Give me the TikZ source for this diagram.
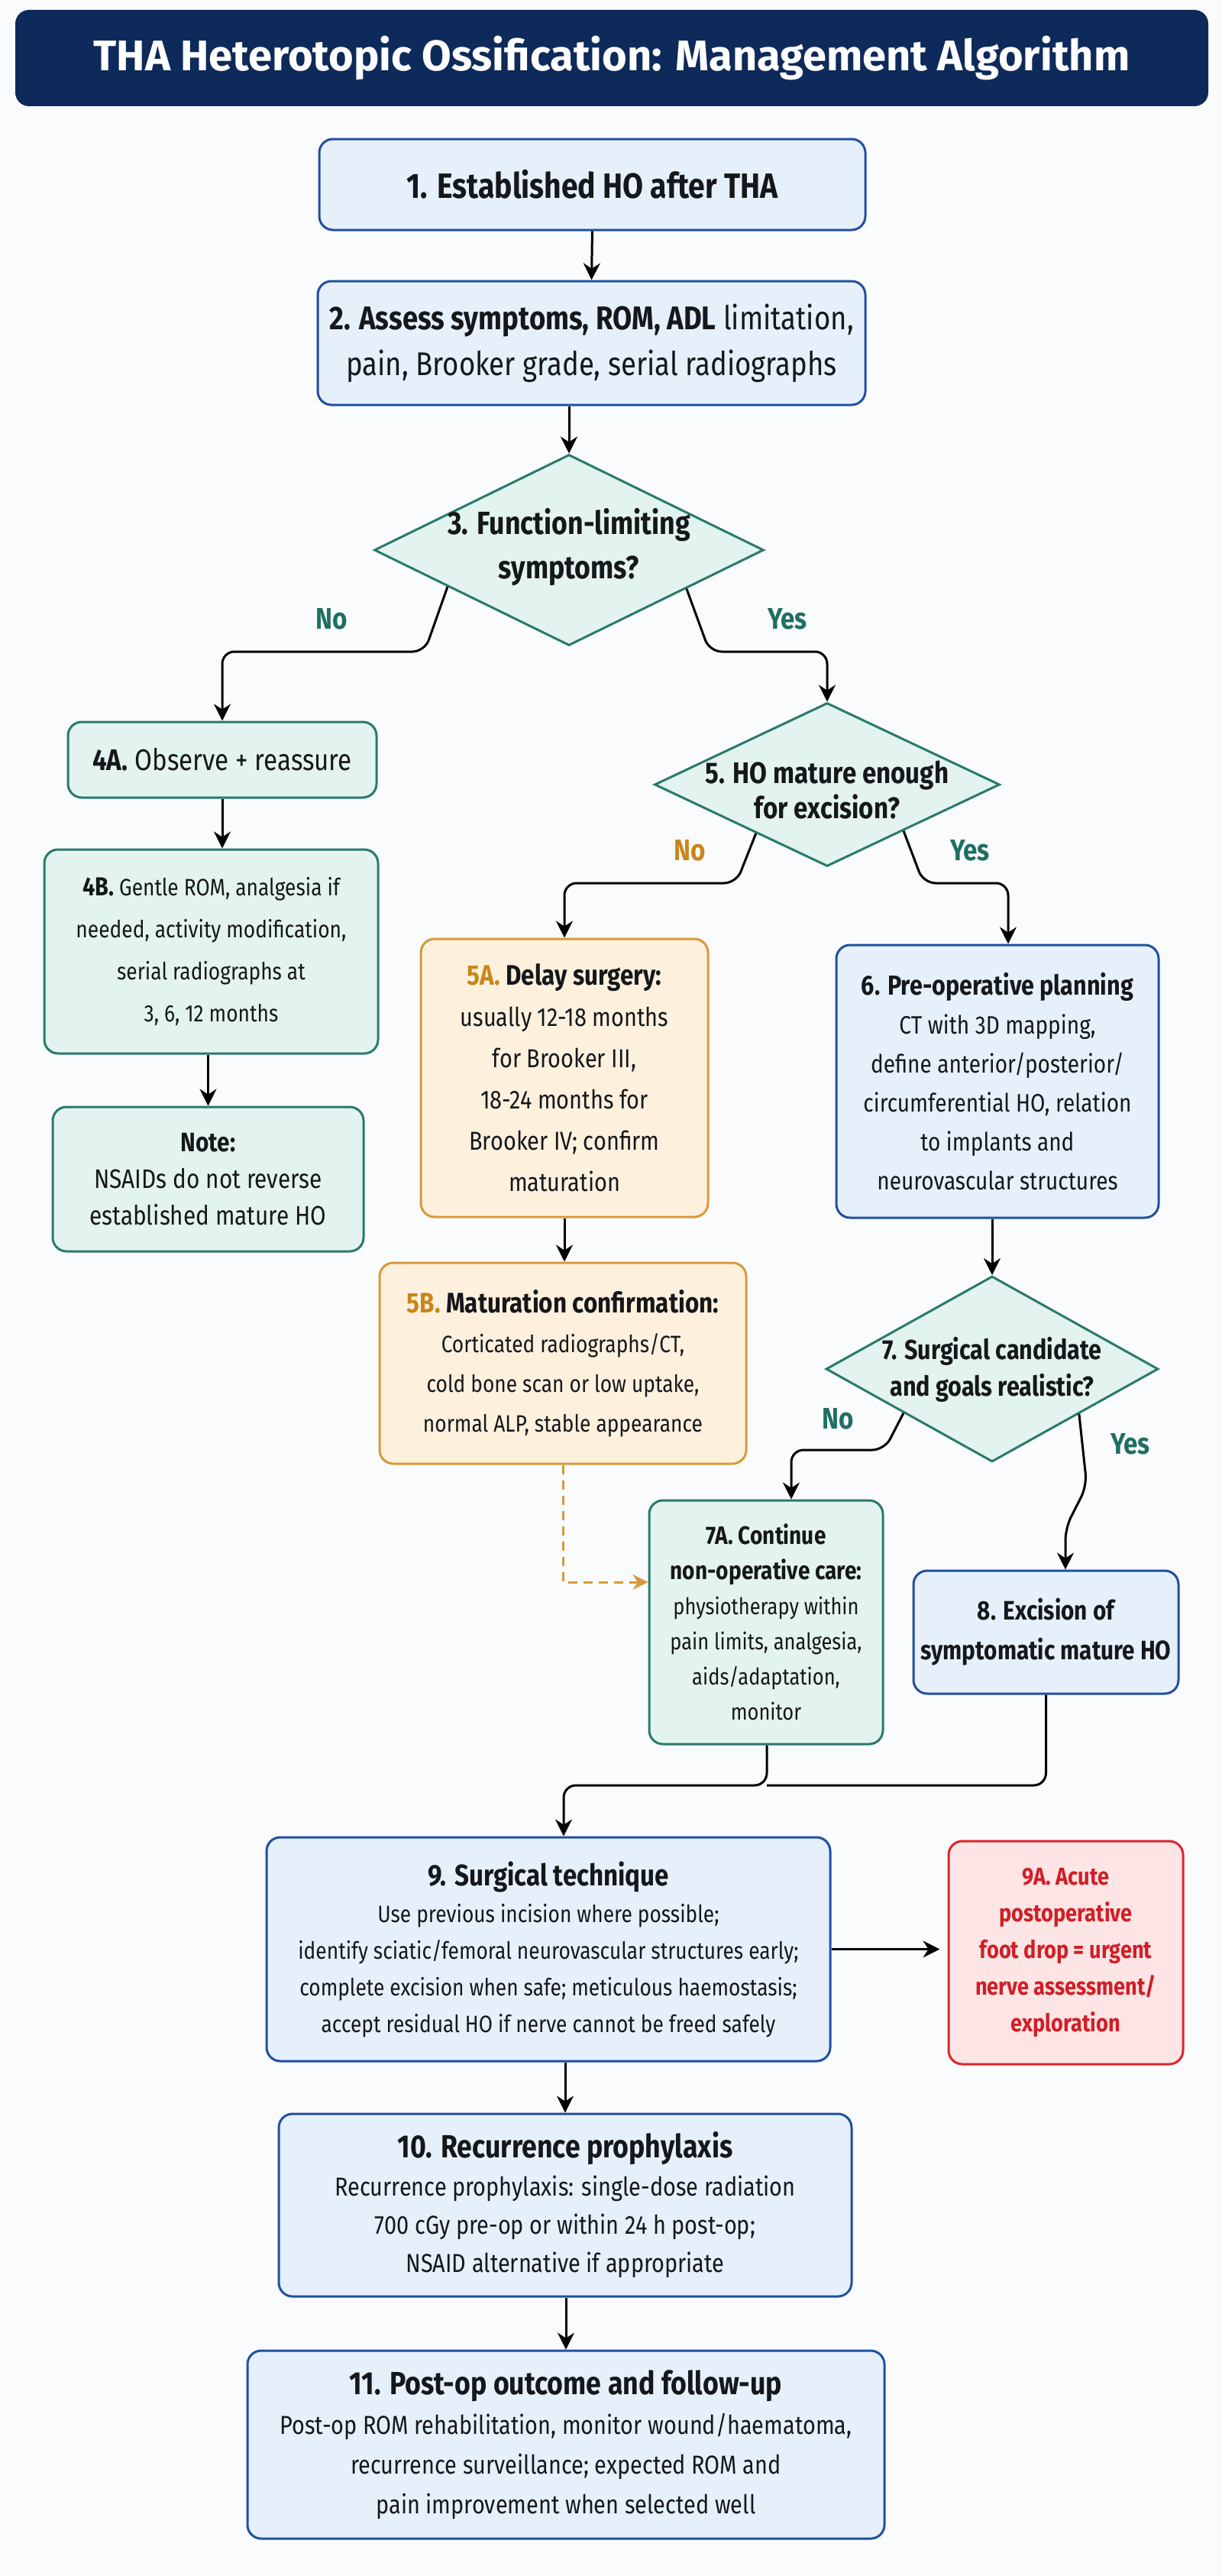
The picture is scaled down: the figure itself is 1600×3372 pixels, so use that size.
\documentclass[tikz,border=0pt]{standalone}
\usepackage{fontspec}
\setmainfont{Fira Sans}[FakeStretch=0.85]
\newfontfamily\titlefont{Fira Sans}
\usetikzlibrary{shapes.geometric,arrows.meta,calc}
\definecolor{navy}{HTML}{0E2A5A}
\definecolor{bgc}{HTML}{FAFBFC}
\definecolor{txt}{HTML}{15171A}
\definecolor{bborder}{HTML}{2150A0}
\definecolor{bfill}{HTML}{E6F0FB}
\definecolor{tborder}{HTML}{2A7A6C}
\definecolor{tfill}{HTML}{E3F3EF}
\definecolor{oborder}{HTML}{D69A3A}
\definecolor{ofill}{HTML}{FDF1DE}
\definecolor{otext}{HTML}{C8861A}
\definecolor{rborder}{HTML}{D9262C}
\definecolor{rfill}{HTML}{FDE4E5}
\definecolor{rtext}{HTML}{D01F26}
\definecolor{labteal}{HTML}{1F6F63}
\newcommand\fsz[2]{\fontsize{#1}{#2}\selectfont}
\begin{document}
\begin{tikzpicture}[x=0.5pt,y=-0.5pt,
  box/.style={draw, rounded corners=9pt, line width=1.5pt, align=center, inner sep=0pt, text=txt},
  bluebox/.style={box, draw=bborder, fill=bfill},
  tealbox/.style={box, draw=tborder, fill=tfill},
  orangebox/.style={box, draw=oborder, fill=ofill},
  redbox/.style={box, draw=rborder, fill=rfill, text=rtext},
  dia/.style={diamond, draw=tborder, fill=tfill, line width=1.5pt, inner sep=0pt},
  diatext/.style={align=center, inner sep=0pt, text=txt},
  ln/.style={line width=1.5pt, black, rounded corners=8pt},
  arr/.style={ln, -{Stealth[length=11pt,width=11pt]}},
  darr/.style={line width=1.5pt, oborder, dash pattern=on 6pt off 4pt, -{Stealth[length=10pt,width=10pt]}},
  lab/.style={font=\bfseries\fsz{19.5}{22}, text=labteal, inner sep=0pt},
  olab/.style={lab, text=otext}
]
\fill[bgc] (0,0) rectangle (1600,3372);
\useasboundingbox (0,0) rectangle (1600,3372);

% title
\node[draw=none, fill=navy, rounded corners=9pt, minimum width=781pt, minimum height=63pt, text=white,
  font=\titlefont\bfseries\fsz{28}{32}] (title) at (801,76) {THA Heterotopic Ossification: Management Algorithm};

% boxes
\node[bluebox, minimum width=357.5pt, minimum height=59.5pt, font=\bfseries\fsz{23}{26}] (a1) at (775.5,241.5)
  {1. Established HO after THA};
\node[bluebox, minimum width=358.5pt, minimum height=81pt, font=\fsz{21.5}{30}] (a2) at (774.5,449)
  {\textbf{2. Assess symptoms, ROM, ADL} limitation,\\pain, Brooker grade, serial radiographs};

\node[dia, minimum width=255pt, minimum height=125pt] (d3) at (745,720) {};
\node[diatext, font=\bfseries\fsz{21}{29}] (d3t) at (745,716) {3. Function-limiting\\symptoms?};

\node[tealbox, minimum width=202pt, minimum height=49.5pt, font=\fsz{19.5}{24}] (a4) at (291,994.5)
  {\textbf{4A.} Observe + reassure};
\node[tealbox, minimum width=218.5pt, minimum height=133.5pt, font=\fsz{15.5}{27.5}] (a4b) at (276.5,1245.5)
  {\textbf{\fsz{17}{27.5}4B.} Gentle ROM, analgesia if\\needed, activity modification,\\serial radiographs at\\3, 6, 12 months};
\node[tealbox, minimum width=203.5pt, minimum height=94.5pt, font=\fsz{17.5}{24}] (note) at (272.5,1543.5)
  {\textbf{Note:}\\NSAIDs do not reverse\\established mature HO};

\node[dia, minimum width=226pt, minimum height=107pt] (d5) at (1083,1027) {};
\node[diatext, font=\bfseries\fsz{19.5}{23}] (d5t) at (1083,1034) {5. HO mature enough\\for excision?};

\node[orangebox, minimum width=188pt, minimum height=182pt, font=\fsz{17}{27}] (a5a) at (739,1411)
  {\textbf{\fsz{18.5}{27}\textcolor{otext}{5A.} Delay surgery:}\\usually 12-18 months\\for Brooker III,\\18-24 months for\\Brooker IV; confirm\\maturation};
\node[bluebox, minimum width=211pt, minimum height=178.5pt, font=\fsz{16.5}{25.5}] (a6) at (1306,1415.5)
  {\textbf{\fsz{18}{25.5}6. Pre-operative planning}\\CT with 3D mapping,\\define anterior/posterior/\\circumferential HO, relation\\to implants and\\neurovascular structures};

\node[orangebox, minimum width=240pt, minimum height=131.5pt, font=\fsz{15.5}{26}] (a5b) at (737,1784.5)
  {\textbf{\fsz{18.5}{26}\textcolor{otext}{5B.} Maturation confirmation:}\\Corticated radiographs/CT,\\cold bone scan or low uptake,\\normal ALP, stable appearance};

\node[dia, minimum width=217.5pt, minimum height=121.5pt] (d7) at (1299,1792) {};
\node[diatext, font=\bfseries\fsz{18}{24}] (d7t) at (1299,1793) {7. Surgical candidate\\and goals realistic?};

\node[tealbox, minimum width=153pt, minimum height=159.5pt, font=\fsz{15}{23}] (a7a) at (1003,2123.5)
  {\textbf{\fsz{16.5}{23}7A. Continue}\\\textbf{\fsz{16.5}{23}non-operative care:}\\physiotherapy within\\pain limits, analgesia,\\aids/adaptation,\\monitor};
\node[bluebox, minimum width=173.5pt, minimum height=80.5pt, font=\bfseries\fsz{17.5}{26}] (a8) at (1369.5,2136.5)
  {8. Excision of\\symptomatic mature HO};

\node[bluebox, minimum width=369pt, minimum height=146.5pt, font=\fsz{15.5}{24}] (a9) at (718,2551.5)
  {\textbf{\fsz{19.5}{26}9. Surgical technique}\\Use previous incision where possible;\\identify sciatic/femoral neurovascular structures early;\\complete excision when safe; meticulous haemostasis;\\accept residual HO if nerve cannot be freed safely};
\node[redbox, minimum width=153.5pt, minimum height=146pt, font=\bfseries\fsz{16}{24}] (a9a) at (1395.5,2556)
  {9A. Acute\\postoperative\\foot drop = urgent\\nerve assessment/\\exploration};

\node[bluebox, minimum width=375pt, minimum height=119.5pt, font=\fsz{17}{25}] (a10) at (740,2886.5)
  {\textbf{\fsz{21}{27}10. Recurrence prophylaxis}\\Recurrence prophylaxis: single-dose radiation\\700 cGy pre-op or within 24 h post-op;\\NSAID alternative if appropriate};
\node[bluebox, minimum width=417pt, minimum height=123pt, font=\fsz{17}{26}] (a11) at (741,3200)
  {\textbf{\fsz{21}{27}11. Post-op outcome and follow-up}\\Post-op ROM rehabilitation, monitor wound/haematoma,\\recurrence surveillance; expected ROM and\\pain improvement when selected well};

% labels
\node[lab] (l3n) at (434,810) {No};
\node[lab] (l3y) at (1031,810) {Yes};
\node[olab] (l5n) at (903,1113) {No};
\node[lab] (l5y) at (1270,1113) {Yes};
\node[lab] (l7n) at (1097,1857) {No};
\node[lab] (l7y) at (1480,1890) {Yes};

% helper coordinates
\coordinate (b3n) at (556,853);
\coordinate (b3y) at (929,853);
\coordinate (b5n) at (964,1156);
\coordinate (b5y) at (1209,1156);
\coordinate (in6) at (1320,0);
\coordinate (b7n) at (1158,1898);
\coordinate (in7a) at (1036,0);
\coordinate (b7y1) at (1423,1945);
\coordinate (b7y2) at (1395,2000);
\coordinate (dsh) at (0,2071);
\coordinate (m) at (1004,2337);
\coordinate (in9) at (738,0);

% connectors
\draw[arr] (a1.south) -- (a2.north);
\draw[arr] (d3.north |- a2.south) -- (d3.north);
\draw[arr] ($(d3.west)!0.38!(d3.south)$) -- (b3n) -- (a4.north |- b3n) -- (a4.north);
\draw[arr] ($(d3.east)!0.40!(d3.south)$) -- (b3y) -- (d5.north |- b3y) -- (d5.north);
\draw[arr] (a4.south) -- (a4b.north -| a4.south);
\draw[arr] (note.north |- a4b.south) -- (note.north);
\draw[arr] ($(d5.west)!0.59!(d5.south)$) -- (b5n) -- (a5a.north |- b5n) -- (a5a.north);
\draw[arr] ($(d5.east)!0.56!(d5.south)$) -- (b5y) -- (in6 |- b5y) -- (in6 |- a6.north);
\draw[arr] (a5a.south) -- (a5b.north -| a5a.south);
\draw[arr] (d7.north |- a6.south) -- (d7.north);
\draw[arr] ($(d7.west)!0.47!(d7.south)$) -- (b7n) -- (in7a |- b7n) -- (in7a |- a7a.north);
\draw[arr] ($(d7.east)!0.48!(d7.south)$) -- (b7y1) -- (b7y2) -- (b7y2 |- a8.north);
\draw[darr] (a5b.south) -- (a5b.south |- dsh) -- (a7a.west |- dsh);
\draw[ln] (a8.south) -- (a8.south |- m) -- (m);
\draw[arr] (a7a.south -| m) -- (m) -- (in9 |- m) -- (in9 |- a9.north);
\draw[arr, shorten >=5pt] (a9.east) -- (a9.east -| a9a.west);
\draw[arr] (a10.north |- a9.south) -- (a10.north);
\draw[arr] (a11.north |- a10.south) -- (a11.north);
\end{tikzpicture}
\end{document}
